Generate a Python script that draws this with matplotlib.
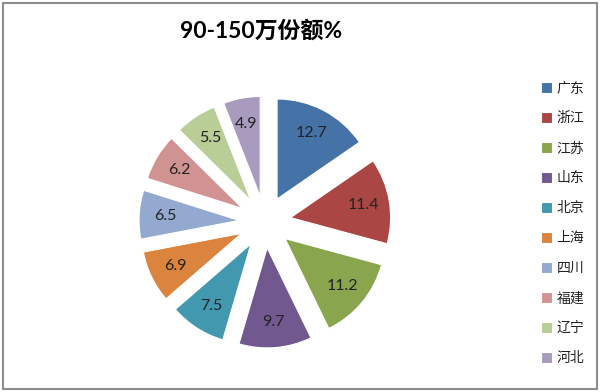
import matplotlib.pyplot as plt
from matplotlib.patches import Rectangle

# data
provinces = ['广东', '浙江', '江苏', '山东', '北京', '上海', '四川', '福建', '辽宁', '河北']
shares = [12.7, 11.4, 11.2, 9.7, 7.5, 6.9, 6.5, 6.2, 5.5, 4.9]
colors = ['#4572A7', '#AA4643', '#89A54E', '#71588F', '#4198AF',
          '#DB843D', '#93A9CF', '#D19392', '#B9CD96', '#A99BBD']

plt.rcParams['font.family'] = ['Noto Sans CJK SC', 'DejaVu Sans']

fig = plt.figure(figsize=(6, 3.92), dpi=100)

# pie axes: 1 data unit = 100 px, centre at about (265, 222) px
ax = fig.add_axes([115 / 600, 20 / 392, 300 / 600, 300 / 392])
total = sum(shares)
wedges, texts, autotexts = ax.pie(
    shares, colors=colors, startangle=90, counterclock=False,
    explode=[0.26] * len(shares), radius=1.0,
    autopct=lambda p: f'{p * total / 100:.1f}', pctdistance=0.74,
    wedgeprops=dict(edgecolor='white', linewidth=0.8),
    textprops=dict(fontsize=11.5, color='#222222', family=['Lato', 'Noto Sans CJK SC']))
ax.set_xlim(-1.5, 1.5)
ax.set_ylim(-1.5, 1.5)
ax.set_aspect('equal')

fig.text(261 / 600, 1 - 31 / 392, '90-150万份额%', ha='center', va='center',
         fontsize=16.5, fontweight='bold', family=['Lato', 'Noto Sans CJK SC'])

leg = fig.legend(wedges, provinces, loc='upper left', bbox_to_anchor=(528 / 600, 1 - 69 / 392),
                 frameon=False, fontsize=10, handlelength=0.8, handleheight=0.8,
                 handletextpad=0.35, labelspacing=1.15)
for t in leg.get_texts():
    t.set_color('#222222')

# chart border
fig.patches.append(Rectangle((3 / 600, 3 / 392), 594 / 600, 386 / 392, transform=fig.transFigure,
                             fill=False, edgecolor='#8c8c8c', linewidth=1.5))

fig.savefig('out.png', dpi=100)
